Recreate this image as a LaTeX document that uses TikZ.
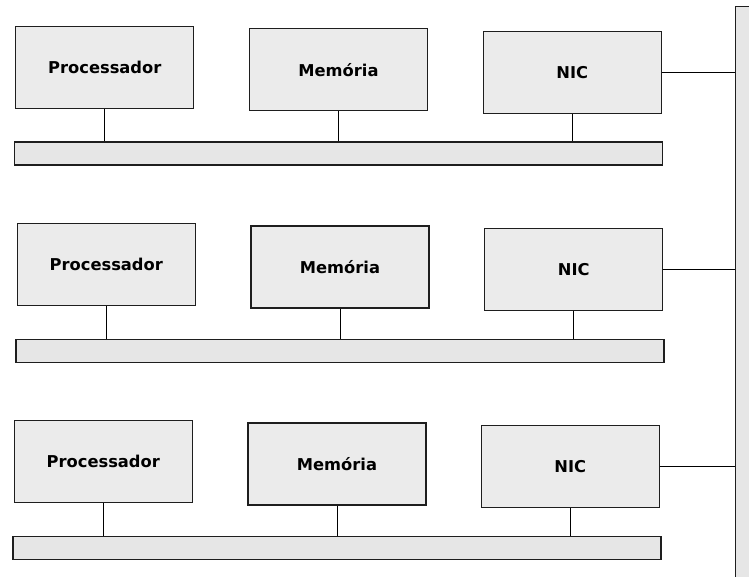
\documentclass[tikz,border=0pt]{standalone}
\usepackage{fontspec}
\setmainfont{DejaVu Sans}
\usetikzlibrary{positioning}
\definecolor{boxgray}{HTML}{EBEBEB}
\definecolor{busgray}{HTML}{E6E6E6}
\definecolor{edgegray}{HTML}{1E1E1E}
\tikzstyle{unit} = [rectangle, minimum width=178pt, minimum height=82pt, text centered, draw=edgegray, line width=1.2pt, fill=boxgray, font=\fontsize{16.3}{19}\selectfont\bfseries]
\tikzstyle{bus} = [rectangle, minimum width=648pt, minimum height=23pt, draw=edgegray, line width=1.2pt, fill=busgray]
\tikzstyle{network} = [rectangle, anchor=north west, minimum width=40pt, minimum height=620pt, draw=edgegray, line width=1.2pt, fill=busgray]
\tikzstyle{link} = [line width=0.9pt, black]

\begin{document}
\begin{tikzpicture}[x=1pt, y=-1pt]
	\clip (0,0) rectangle (749,576);
	\fill [white] (0,0) rectangle (749,576);
	\node (net) [network] at (735,6) {};

	% first node
	\node (proc1) [unit] at (104.8,67.2) {Processador};
		\node (mem1) [unit, right=54.5pt of proc1, yshift=-2.5pt] {Memória};
		\node (nic1) [unit, right=54.5pt of mem1, yshift=-2.4pt] {NIC};
		\node (bus1) [bus, below=30pt of mem1] {};
	\draw [link] (proc1.south) -- (proc1.south |- bus1.north);
	\draw [link] (mem1) -- (bus1);
	\draw [link] (nic1.south) -- (nic1.south |- bus1.north);
	\draw [link] (nic1.east) -- (nic1.east -| net.west);

	% second node
	\node (proc2) [unit] at (106.3,264.5) {Processador};
		\node (mem2) [unit, right=54.5pt of proc2, yshift=-2.5pt] {Memória};
		\node (nic2) [unit, right=54.5pt of mem2, yshift=-2.4pt] {NIC};
		\node (bus2) [bus, below=30pt of mem2] {};
	\draw [link] (proc2.south) -- (proc2.south |- bus2.north);
	\draw [link] (mem2) -- (bus2);
	\draw [link] (nic2.south) -- (nic2.south |- bus2.north);
	\draw [link] (nic2.east) -- (nic2.east -| net.west);

	% third node
	\node (proc3) [unit] at (103.3,461.5) {Processador};
		\node (mem3) [unit, right=54.5pt of proc3, yshift=-2.5pt] {Memória};
		\node (nic3) [unit, right=54pt of mem3, yshift=-2.4pt] {NIC};
		\node (bus3) [bus, below=30pt of mem3] {};
	\draw [link] (proc3.south) -- (proc3.south |- bus3.north);
	\draw [link] (mem3) -- (bus3);
	\draw [link] (nic3.south) -- (nic3.south |- bus3.north);
	\draw [link] (nic3.east) -- (nic3.east -| net.west);
\end{tikzpicture}
\end{document}
